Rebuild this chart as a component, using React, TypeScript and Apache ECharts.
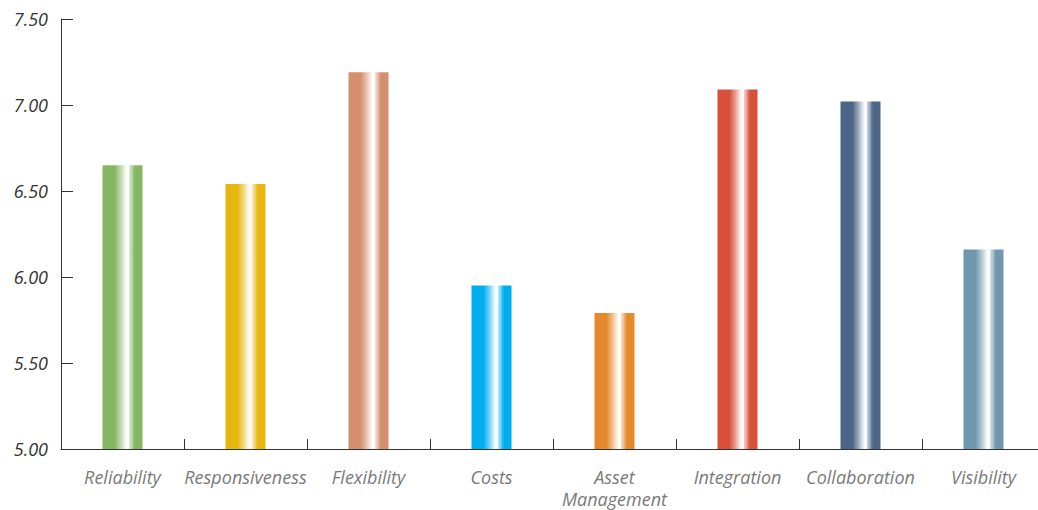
import React, { useEffect, useRef } from "react";
import * as echarts from "echarts";

const categories = ["Reliability", "Responsiveness", "Flexibility", "Costs", "Asset\nManagement", "Integration", "Collaboration", "Visibility"];
const values = [6.65, 6.54, 7.19, 5.95, 5.79, 7.09, 7.02, 6.16];
const barColors = ["#85b762", "#e8b70e", "#d4906e", "#00aeef", "#e58a2c", "#d9503a", "#4d6688", "#6f97ad"];
const yTicks = { min: 5, max: 7.5, interval: 0.5 };

function mix(hex: string, t: number): string {
  const r = parseInt(hex.slice(1, 3), 16);
  const g = parseInt(hex.slice(3, 5), 16);
  const b = parseInt(hex.slice(5, 7), 16);
  const m = (v: number) => Math.round(v + (255 - v) * t);
  return `rgb(${m(r)},${m(g)},${m(b)})`;
}

function barGradient(c: string) {
  return new echarts.graphic.LinearGradient(0, 0, 1, 0, [
    { offset: 0, color: c },
    { offset: 0.3, color: c },
    { offset: 0.45, color: mix(c, 0.45) },
    { offset: 0.56, color: mix(c, 0.85) },
    { offset: 0.6, color: mix(c, 0.97) },
    { offset: 0.66, color: mix(c, 0.97) },
    { offset: 0.68, color: mix(c, 0.6) },
    { offset: 0.74, color: mix(c, 0.45) },
    { offset: 0.76, color: mix(c, 0.2) },
    { offset: 0.82, color: c },
    { offset: 1, color: c },
  ]);
}

export default function App() {
  const ref = useRef<HTMLDivElement>(null);
  useEffect(() => {
    if (!ref.current) return;
    const chart = echarts.init(ref.current, undefined, { renderer: "svg" });
    chart.setOption({
      animation: false,
      grid: { left: 61, right: 1, top: 19, bottom: 61 },
      xAxis: {
        type: "category",
        data: categories,
        axisLine: { lineStyle: { color: "#333", width: 1 } },
        axisTick: { show: true, inside: true, length: 10, lineStyle: { color: "#333", width: 1 } },
        axisLabel: {
          fontFamily: "Open Sans",
          fontStyle: "italic",
          fontSize: 18,
          color: "#7a7a7a",
          margin: 17,
          lineHeight: 22,
          interval: 0,
        },
      },
      yAxis: {
        type: "value",
        min: yTicks.min,
        max: yTicks.max,
        interval: yTicks.interval,
        splitLine: { show: false },
        axisLine: { show: true, lineStyle: { color: "#333", width: 1 } },
        axisTick: { show: true, inside: true, length: 12, lineStyle: { color: "#333" } },
        axisLabel: {
          fontFamily: "Open Sans",
          fontStyle: "italic",
          fontSize: 18,
          color: "#333",
          margin: 13,
          formatter: (v: number) => v.toFixed(2),
        },
      },
      series: [
        {
          type: "bar",
          barWidth: 40,
          data: values.map((v, i) => ({ value: v, itemStyle: { color: barGradient(barColors[i]) } })),
        },
      ],
    });
    return () => chart.dispose();
  }, []);
  return (
    <div style={{ position: "fixed", left: 0, top: 0, width: 1038, height: 510, overflow: "hidden", background: "#fff" }}>
      <div ref={ref} style={{ width: 1046, height: 510 }} />
    </div>
  );
}
